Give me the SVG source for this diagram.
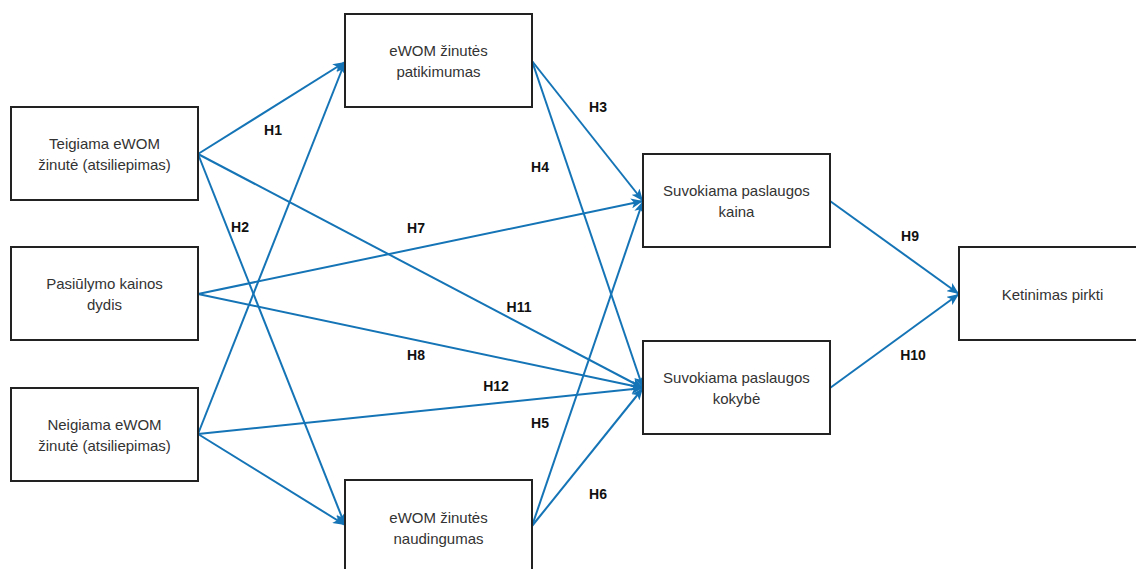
<svg xmlns="http://www.w3.org/2000/svg" width="1136" height="569" viewBox="0 0 1136 569">
<style>
.box{fill:#fff;stroke:#222;stroke-width:2}
.t{font-family:"Liberation Sans",Arial,sans-serif;font-size:15px;fill:#333;text-anchor:middle;dominant-baseline:central}
.e{fill:none;stroke:#1474b6;stroke-width:2;marker-end:url(#ah)}
.l{font-family:"Liberation Sans",Arial,sans-serif;font-size:14px;font-weight:bold;fill:#111;text-anchor:middle;dominant-baseline:central}
</style>
<defs>
<marker id="ah" markerUnits="userSpaceOnUse" viewBox="0 0 12 10" refX="12" refY="5" markerWidth="12" markerHeight="10" orient="auto">
<path d="M0,0 L12,5 L0,10 L3,5 Z" fill="#1474b6"/>
</marker>
</defs>
<rect width="1136" height="569" fill="#fff"/>
<g id="connectors">
<line class="e" x1="198" y1="154" x2="345" y2="62"/>
<line class="e" x1="198" y1="154" x2="345" y2="525"/>
<line class="e" x1="198" y1="154" x2="643" y2="388"/>
<line class="e" x1="198" y1="294" x2="643" y2="201"/>
<line class="e" x1="198" y1="294" x2="643" y2="388"/>
<line class="e" x1="198" y1="434" x2="345" y2="62"/>
<line class="e" x1="198" y1="434" x2="345" y2="525"/>
<line class="e" x1="198" y1="434" x2="643" y2="388"/>
<line class="e" x1="532" y1="61" x2="643" y2="201"/>
<line class="e" x1="532" y1="61" x2="643" y2="388"/>
<line class="e" x1="532" y1="526" x2="643" y2="201"/>
<line class="e" x1="532" y1="526" x2="643" y2="388"/>
<line class="e" x1="830" y1="201" x2="959" y2="294"/>
<line class="e" x1="830" y1="388" x2="959" y2="294"/>
<text class="l" x="273" y="130">H1</text>
<text class="l" x="240" y="227">H2</text>
<text class="l" x="598" y="107">H3</text>
<text class="l" x="540" y="167">H4</text>
<text class="l" x="416" y="228">H7</text>
<text class="l" x="519" y="307">H11</text>
<text class="l" x="416" y="355">H8</text>
<text class="l" x="496" y="386">H12</text>
<text class="l" x="540" y="423">H5</text>
<text class="l" x="598" y="494">H6</text>
<text class="l" x="910" y="236">H9</text>
<text class="l" x="913" y="355">H10</text>
</g>
<g id="teigiama">
<rect class="box" x="11" y="107" width="187" height="93"/>
<text class="t" x="104.5" y="143">Teigiama eWOM</text>
<text class="t" x="104.5" y="164">žinutė (atsiliepimas)</text>
</g>
<g id="pasiulymo">
<rect class="box" x="11" y="247" width="187" height="93"/>
<text class="t" x="104.5" y="283">Pasiūlymo kainos</text>
<text class="t" x="104.5" y="304">dydis</text>
</g>
<g id="neigiama">
<rect class="box" x="11" y="388" width="187" height="93"/>
<text class="t" x="104.5" y="424">Neigiama eWOM</text>
<text class="t" x="104.5" y="445">žinutė (atsiliepimas)</text>
</g>
<g id="patikimumas">
<rect class="box" x="345" y="14" width="187" height="93"/>
<text class="t" x="438.5" y="50">eWOM žinutės</text>
<text class="t" x="438.5" y="71">patikimumas</text>
</g>
<g id="naudingumas">
<rect class="box" x="345" y="480" width="187" height="93"/>
<text class="t" x="438.5" y="517">eWOM žinutės</text>
<text class="t" x="438.5" y="538">naudingumas</text>
</g>
<g id="kaina">
<rect class="box" x="643" y="154" width="187" height="93"/>
<text class="t" x="736.5" y="190">Suvokiama paslaugos</text>
<text class="t" x="736.5" y="211">kaina</text>
</g>
<g id="kokybe">
<rect class="box" x="643" y="341" width="187" height="93"/>
<text class="t" x="736.5" y="377">Suvokiama paslaugos</text>
<text class="t" x="736.5" y="398">kokybė</text>
</g>
<g id="ketinimas">
<rect class="box" x="959" y="247" width="187" height="93"/>
<text class="t" x="1052.5" y="294">Ketinimas pirkti</text>
</g>
</svg>
